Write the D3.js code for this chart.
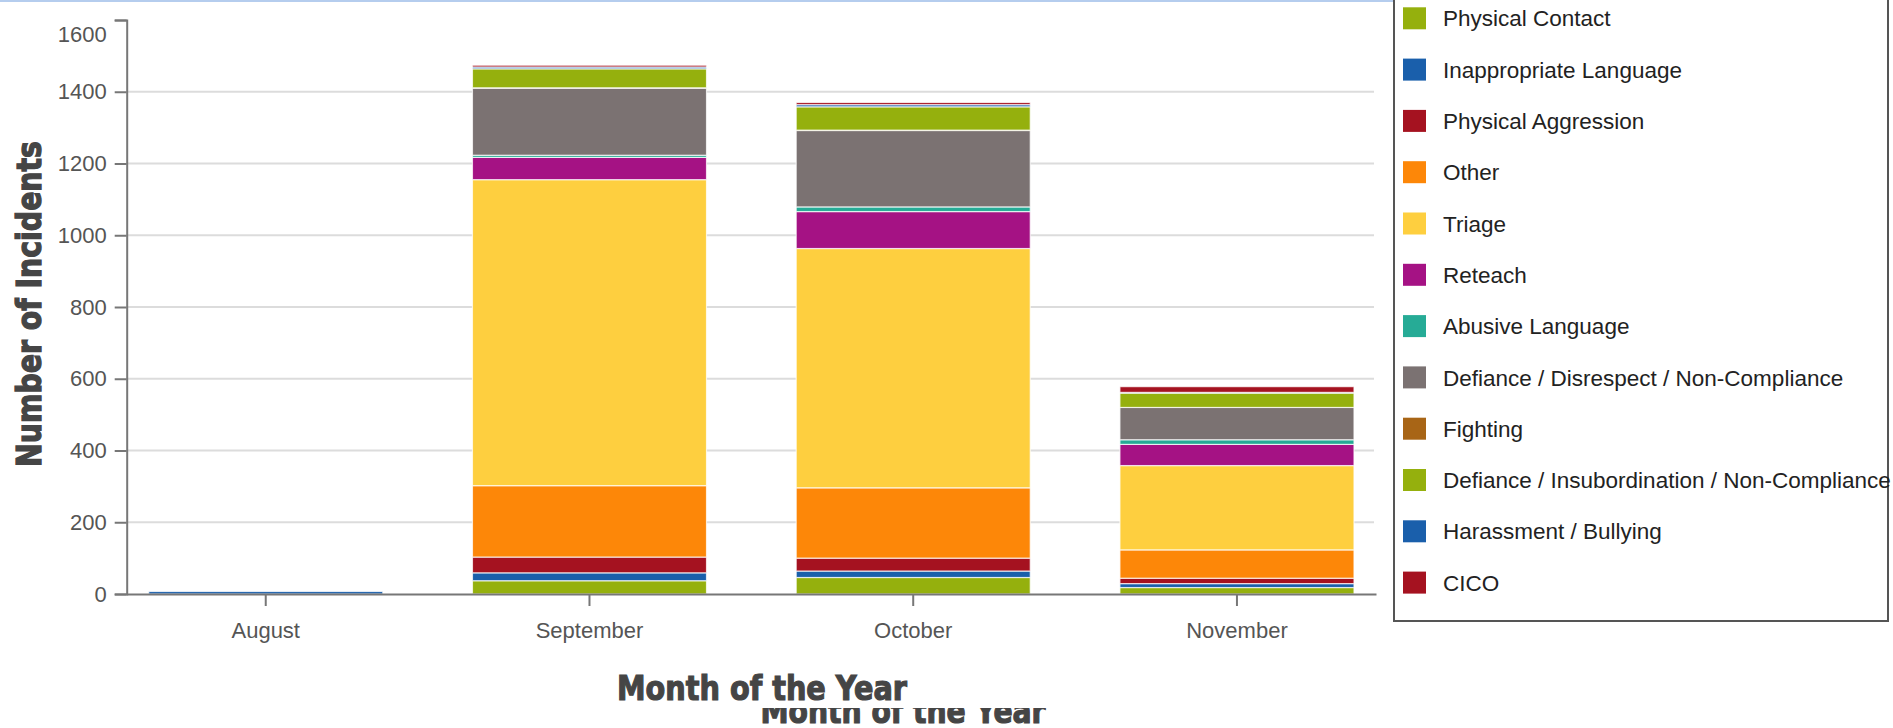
<!DOCTYPE html>
<html>
<head>
<meta charset="utf-8">
<script src="https://cdn.jsdelivr.net/npm/d3@7"></script>
<style>
  html, body { margin: 0; padding: 0; background: #fff; }
  svg { display: block; }
</style>
</head>
<body>
<svg id="chart" width="1893" height="728"></svg>
<script>
// ---------- data ----------
const months = ["August", "September", "October", "November"];
const seriesNames = [
  "Physical Contact",
  "Inappropriate Language",
  "Physical Aggression",
  "Other",
  "Triage",
  "Reteach",
  "Abusive Language",
  "Defiance / Disrespect / Non-Compliance",
  "Fighting",
  "Defiance / Insubordination / Non-Compliance",
  "Harassment / Bullying",
  "CICO"
];
const seriesColors = [
  "#95b00d", "#1a5fab", "#a51220", "#fd8708", "#fecf3f", "#a51284",
  "#26ab96", "#7b7272", "#a86516", "#95b00d", "#1a5fab", "#a51220"
];
const physicalContact         = [0, 37, 46, 18];
const inappropriateLanguage   = [7, 22, 18, 11];
const physicalAggression      = [0, 44, 36, 15];
const other                   = [0, 199, 196, 79];
const triage                  = [0, 853, 667, 235];
const reteach                 = [0, 62, 103, 59];
const abusiveLanguage         = [0, 6, 13, 13];
const defianceDisrespect      = [0, 187, 213, 90];
const fighting                = [0, 1, 1, 0];
const defianceInsubordination = [0, 53, 65, 40];
const harassmentBullying      = [0, 5, 6, 2];
const cico                    = [0, 5, 6, 16];
const yTickValues = [0, 200, 400, 600, 800, 1000, 1200, 1400, 1600];
const yTitle = "Number of Incidents";
const xTitle = "Month of the Year";

const seriesValues = [
  physicalContact, inappropriateLanguage, physicalAggression, other, triage,
  reteach, abusiveLanguage, defianceDisrespect, fighting,
  defianceInsubordination, harassmentBullying, cico
];

// table for d3.stack
const table = months.map((m, i) => {
  const row = { month: m };
  seriesNames.forEach((s, k) => { row[s] = seriesValues[k][i]; });
  return row;
});

// ---------- layout ----------
const svg = d3.select("#chart");
const axisFont = "'Liberation Sans', Arial, sans-serif";
const titleFont = "'DejaVu Sans', sans-serif";

const x = d3.scaleBand().domain(months).range([126.7, 1376])
  .paddingInner(0.277).paddingOuter(0.068);
const y = d3.scaleLinear().domain([0, 1600]).range([594, 20]);

// top thin blue line
svg.append("rect").attr("x", 0).attr("y", 0).attr("width", 1394).attr("height", 2)
  .attr("fill", "#b5cdee");

// gridlines
svg.append("g").selectAll("line")
  .data(yTickValues.filter(v => v > 0 && v < 1600))
  .join("line")
  .attr("x1", 127).attr("x2", 1374)
  .attr("y1", d => y(d)).attr("y2", d => y(d))
  .attr("stroke", "#dcdcdc").attr("stroke-width", 2);

// stacked bars
const stack = d3.stack().keys(seriesNames);
const layers = stack(table);
svg.append("g").selectAll("g")
  .data(layers)
  .join("g")
  .attr("fill", (d, i) => seriesColors[i])
  .selectAll("rect")
  .data(d => d.filter(p => p[1] - p[0] > 0))
  .join("rect")
  .attr("x", d => x(d.data.month))
  .attr("width", x.bandwidth())
  .attr("y", d => y(d[1]))
  .attr("height", d => y(d[0]) - y(d[1]))
  .attr("stroke", "#ffffff")
  .attr("stroke-opacity", 0.75)
  .attr("stroke-width", 1.2);

// y axis
const yAxis = svg.append("g").attr("transform", "translate(126.7,0)")
  .call(d3.axisLeft(y).tickValues(yTickValues).tickFormat(d3.format("d"))
    .tickSize(12).tickPadding(8));
// x axis
const xAxis = svg.append("g").attr("transform", "translate(0,594)")
  .call(d3.axisBottom(x).tickSize(12).tickSizeOuter(0).tickPadding(16));

[yAxis, xAxis].forEach(g => {
  g.select(".domain").attr("stroke", "#777").attr("stroke-width", 2);
  g.selectAll(".tick line").attr("stroke", "#777").attr("stroke-width", 2);
  g.selectAll(".tick text").attr("fill", "#555")
    .style("font-family", axisFont).style("font-size", "22px");
});
// top label sits a little lower than its tick
yAxis.selectAll(".tick").filter(d => d === 1600).select("text")
  .attr("transform", "translate(0,14)");

// axis titles
svg.append("text")
  .attr("transform", "translate(41,304) rotate(-90)")
  .attr("text-anchor", "middle")
  .attr("textLength", 326).attr("lengthAdjust", "spacingAndGlyphs")
  .attr("fill", "#454545").attr("stroke", "#454545").attr("stroke-width", 1.3)
  .style("font-family", titleFont).style("font-weight", "bold").style("font-size", "34px")
  .text(yTitle);

svg.append("text")
  .attr("x", 762).attr("y", 700)
  .attr("text-anchor", "middle")
  .attr("textLength", 290).attr("lengthAdjust", "spacingAndGlyphs")
  .attr("fill", "#454545").attr("stroke", "#454545").attr("stroke-width", 1.2)
  .style("font-family", titleFont).style("font-weight", "bold").style("font-size", "33px")
  .text(xTitle);

// partially hidden duplicate title at bottom
svg.append("clipPath").attr("id", "ghostClip")
  .append("rect").attr("x", 0).attr("y", 708).attr("width", 1893).attr("height", 30);
svg.append("text")
  .attr("clip-path", "url(#ghostClip)")
  .attr("x", 903).attr("y", 723)
  .attr("text-anchor", "middle")
  .attr("textLength", 285).attr("lengthAdjust", "spacingAndGlyphs")
  .attr("fill", "#454545").attr("stroke", "#454545").attr("stroke-width", 1.2)
  .style("font-family", titleFont).style("font-weight", "bold").style("font-size", "33px")
  .text(xTitle);

// legend box
svg.append("rect")
  .attr("x", 1394).attr("y", -10).attr("width", 494).attr("height", 631)
  .attr("fill", "none").attr("stroke", "#555").attr("stroke-width", 2);

const legend = svg.append("g").selectAll("g")
  .data(seriesNames)
  .join("g")
  .attr("transform", (d, i) => `translate(1403,${18.3 + i * 51.3})`);
legend.append("rect")
  .attr("x", 0).attr("y", -11).attr("width", 23).attr("height", 22)
  .attr("fill", (d, i) => seriesColors[i]);
legend.append("text")
  .attr("x", 40).attr("dy", "0.36em")
  .attr("fill", "#222")
  .style("font-family", axisFont).style("font-size", "22.5px")
  .text(d => d);
</script>
</body>
</html>
